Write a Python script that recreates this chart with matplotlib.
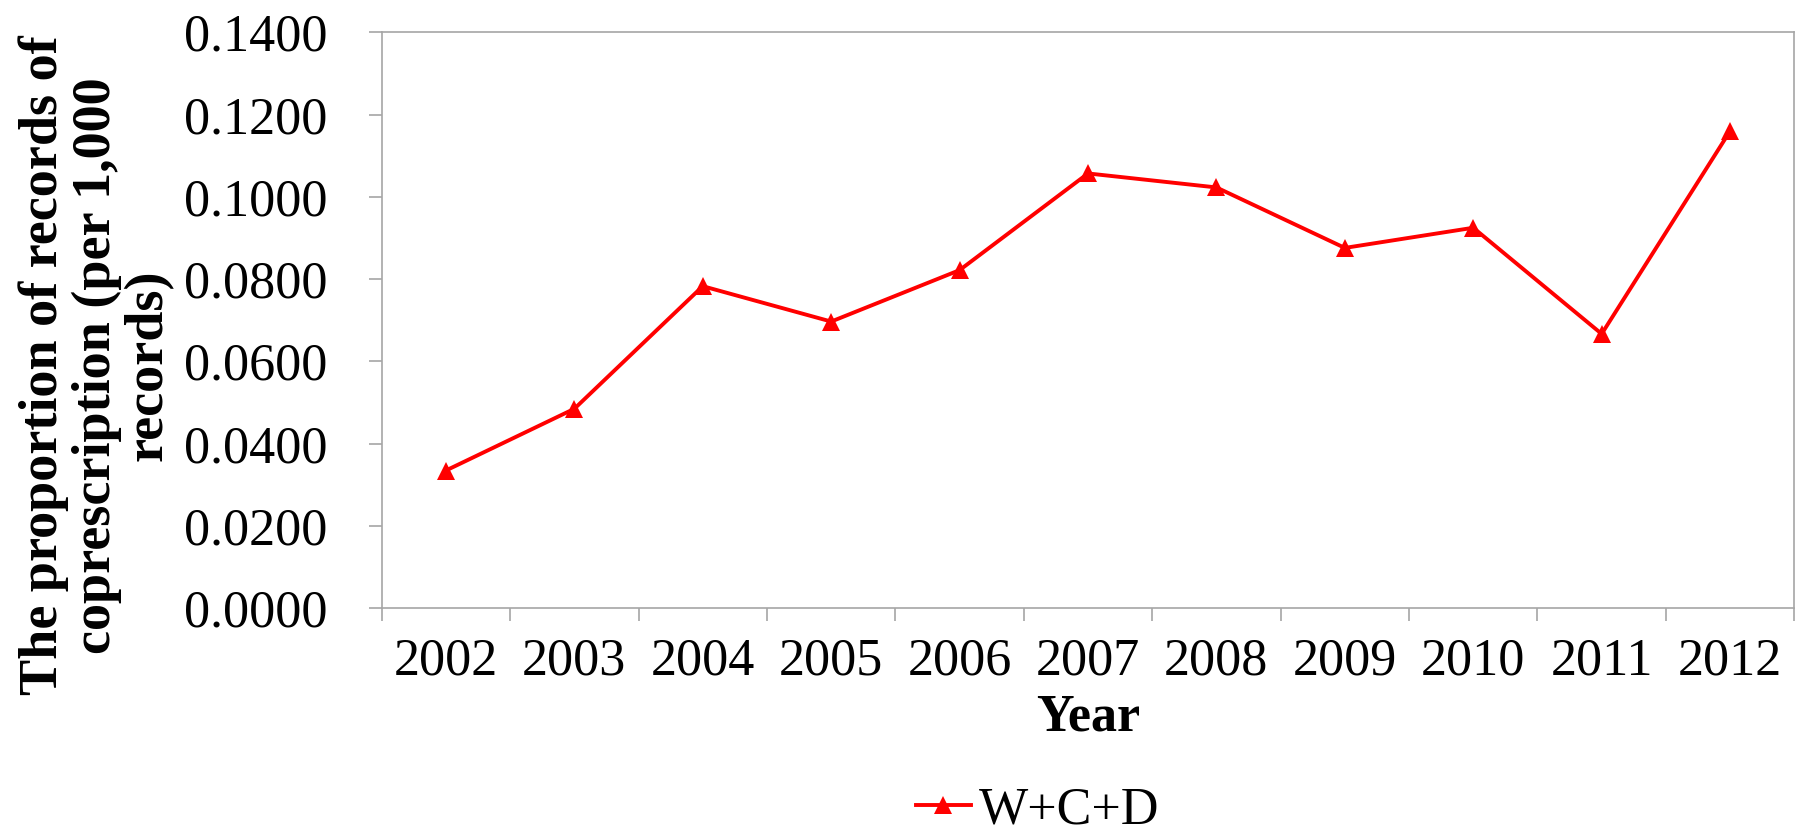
import matplotlib
matplotlib.use("Agg")
import matplotlib.pyplot as plt
from matplotlib.ticker import FixedLocator, FuncFormatter, NullFormatter

years = ["2002", "2003", "2004", "2005", "2006", "2007", "2008", "2009", "2010", "2011", "2012"]
values = [0.0335, 0.0485, 0.0783, 0.0697, 0.0822, 0.1057, 0.1023, 0.0876, 0.0925, 0.0667, 0.1160]
series_name = "W+C+D"
y_ticks = [0.0, 0.02, 0.04, 0.06, 0.08, 0.10, 0.12, 0.14]

plt.rcParams['font.family'] = ['Liberation Serif', 'DejaVu Serif']

fig = plt.figure(figsize=(17.98, 8.33), dpi=100)
ax = fig.add_axes([0.2123, 0.2697, 0.78564, 0.6915])

x = list(range(len(years)))
line, = ax.plot(x, values, color='#FF0000', lw=2.8, marker='^', markersize=13.5,
                markeredgewidth=0, label=series_name)

ax.set_xlim(-0.5, len(years) - 0.5)
ax.set_ylim(0, 0.14)

grey = '#A6A6A6'
for s in ax.spines.values():
    s.set_color(grey)
    s.set_linewidth(1.2)

# x: boundary ticks (major) and centred labels (minor)
ax.xaxis.set_major_locator(FixedLocator([i - 0.5 for i in range(len(years) + 1)]))
ax.xaxis.set_major_formatter(NullFormatter())
ax.xaxis.set_minor_locator(FixedLocator(x))
ax.set_xticks(x, years, minor=True)
ax.tick_params(axis='x', which='major', direction='out', length=9.5, width=1.2, color=grey)
ax.tick_params(axis='x', which='minor', length=0, pad=21, labelsize=37.5)

ax.set_yticks(y_ticks)
ax.yaxis.set_major_formatter(FuncFormatter(lambda v, p: f"{v:.4f}"))
ax.tick_params(axis='y', direction='out', length=9.5, width=1.2, color=grey, pad=29.5, labelsize=37.5)

ax.set_xlabel("Year", fontsize=37.5, fontweight='bold', labelpad=6)

fig.text(0.0535, 0.561, "The proportion of records of\ncoprescription (per 1,000\nrecords)",
         rotation=90, ha='center', va='center', multialignment='center',
         fontsize=39, fontweight='bold', linespacing=1.05)

fig.legend(handles=[line], loc='center', bbox_to_anchor=(0.577, 0.027), frameon=False,
           fontsize=37.5, handlelength=1.05, handletextpad=0.15, borderpad=0, borderaxespad=0)

fig.savefig("out.png", dpi=100)
